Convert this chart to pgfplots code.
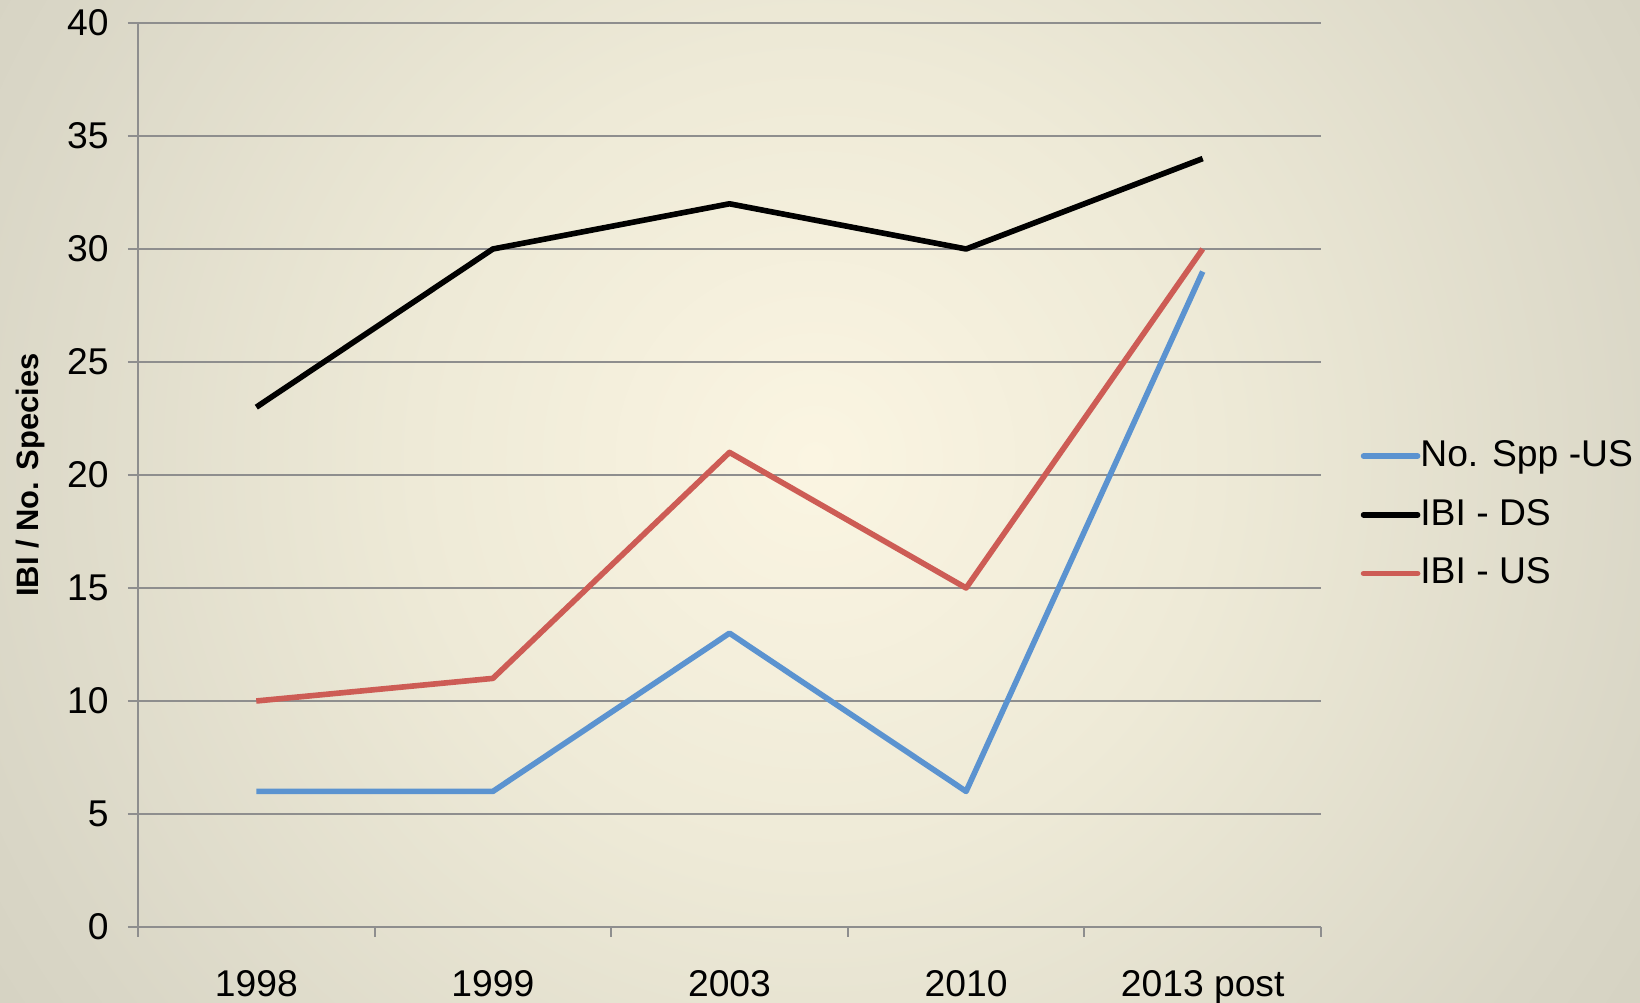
\documentclass[border=0pt]{standalone}
\usepackage{pgfplots}
\pgfplotsset{compat=1.18}
\usepackage{fontspec}
\setmainfont{Liberation Sans}
\definecolor{bg0}{HTML}{FBF5E2}
\definecolor{bg1}{HTML}{EEEAD7}
\definecolor{bg2}{HTML}{D9D6C6}
\definecolor{bg3}{HTML}{C2BFAF}
\definecolor{bg4}{HTML}{B3B0A3}
\definecolor{gridc}{HTML}{8E8E8E}
\definecolor{sblue}{HTML}{5B93D0}
\definecolor{sred}{HTML}{CD5C55}
\pgfdeclareradialshading{bgshade}{\pgfpoint{0bp}{0bp}}{color(0bp)=(bg0); color(10bp)=(bg1); color(22bp)=(bg2); color(40bp)=(bg3); color(50bp)=(bg4)}
\begin{document}
\begin{tikzpicture}[x=1cm,y=1cm]
\begin{scope}
\clip (0,0) rectangle (16.4,10.03);
\fill[bg4] (0,0) rectangle (16.4,10.03);
\shade[shading=bgshade] (8.15,5.43) circle (10);
\end{scope}
\useasboundingbox (0,0) rectangle (16.4,10.03);
\begin{axis}[
  at={(1.38cm,0.76cm)}, anchor=south west,
  scale only axis, width=11.83cm, height=9.04cm,
  xmin=0.5, xmax=5.5, ymin=0, ymax=40,
  ytick={0,5,...,40},
  xtick={1,...,5},
  xticklabels={1998,1999,2003,2010,2013 post},
  minor xtick={0.5,1.5,...,5.5},
  axis lines=left,
  axis line style={-, draw=gridc, line width=0.6pt},
  ymajorgrids, grid style={gridc, line width=0.6pt},
  tick align=outside, major tick length=0.1cm, minor tick length=0.1cm,
  xtick style={draw=none},
  minor x tick style={draw=gridc, line width=0.6pt},
  ytick style={draw=gridc, line width=0.6pt},
  ticklabel style={font=\fontsize{10.6}{12}\selectfont},
  yticklabel style={xshift=-0.07cm},
  xticklabel style={yshift=-0.21cm},
  /pgf/number format/assume math mode=true,
  ylabel={IBI / No. Species},
  ylabel style={at={(axis description cs:-0.091,0.5)}, anchor=center, font=\bfseries\fontsize{8.8}{10}\selectfont},
  legend style={at={(1.033,0.456)}, anchor=west, draw=none, fill=none, inner sep=0pt,
    font=\fontsize{10.6}{12}\selectfont, row sep=5.8pt,
    nodes={inner ysep=1pt, inner xsep=0pt, anchor=west}},
  legend cell align=left,
  legend image code/.code={\draw[#1, line cap=round] (0cm,0cm) -- (0.54cm,0cm);},
  every axis plot/.append style={line width=1.6pt, line join=round, no markers},
]
\addplot[sblue] coordinates {(1,6) (2,6) (3,13) (4,6) (5,29)};
\addlegendentry{No. Spp -US}
\addplot[black] coordinates {(1,23) (2,30) (3,32) (4,30) (5,34)};
\addlegendentry{IBI - DS}
\addplot[sred] coordinates {(1,10) (2,11) (3,21) (4,15) (5,30)};
\addlegendentry{IBI - US}
\end{axis}
\end{tikzpicture}
\end{document}
